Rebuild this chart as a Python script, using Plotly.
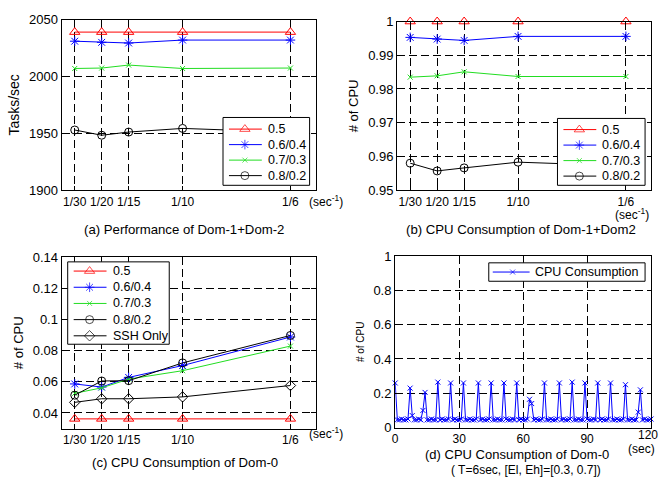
import plotly.graph_objects as go

W, H = 660, 485

# ---------------- data ----------------
x_rates = [1/30, 1/20, 1/15, 1/10, 1/6]
x_labels = ["1/30", "1/20", "1/15", "1/10", "1/6"]

series_names = ["0.5", "0.6/0.4", "0.7/0.3", "0.8/0.2"]

perf_05 = [2039, 2039, 2039, 2039, 2039]
perf_0604 = [2031, 2030, 2029.4, 2032, 2032]
perf_0703 = [2007, 2007.4, 2010, 2007, 2007.4]
perf_0802 = [1952.9, 1948.3, 1951.1, 1954.3, 1951]

cpu12_05 = [1.0, 1.0, 1.0, 1.0, 1.0]
cpu12_0604 = [0.9953, 0.9948, 0.9944, 0.9956, 0.9956]
cpu12_0703 = [0.9835, 0.9839, 0.9851, 0.9837, 0.9837]
cpu12_0802 = [0.9580, 0.9557, 0.9566, 0.9583, 0.9572]

dom0_05 = [0.0362, 0.0362, 0.0362, 0.0362, 0.0362]
dom0_0604 = [0.0586, 0.0566, 0.0628, 0.0704, 0.0887]
dom0_0703 = [0.0526, 0.0561, 0.0617, 0.0671, 0.0829]
dom0_0802 = [0.0514, 0.0605, 0.0607, 0.0721, 0.0897]
dom0_ssh = [0.0468, 0.0491, 0.0491, 0.0503, 0.0576]

time_sec = list(range(121))
cpu_trace = [
    0.26, 0.045, 0.045, 0.05, 0.045, 0.045, 0.05, 0.23, 0.07, 0.045,
    0.045, 0.05, 0.045, 0.10, 0.205, 0.045, 0.045, 0.05, 0.045, 0.045,
    0.265, 0.045, 0.05, 0.045, 0.045, 0.05, 0.26, 0.045, 0.05, 0.045,
    0.045, 0.05, 0.26, 0.045, 0.045, 0.05, 0.045, 0.045, 0.05, 0.26,
    0.045, 0.05, 0.045, 0.045, 0.05, 0.26, 0.045, 0.045, 0.05, 0.045,
    0.045, 0.26, 0.05, 0.045, 0.045, 0.05, 0.045, 0.26, 0.045, 0.05,
    0.045, 0.045, 0.05, 0.165, 0.14, 0.045, 0.05, 0.045, 0.045, 0.05,
    0.26, 0.045, 0.045, 0.05, 0.045, 0.045, 0.05, 0.26, 0.045, 0.05,
    0.045, 0.045, 0.05, 0.265, 0.045, 0.045, 0.05, 0.045, 0.045, 0.26,
    0.05, 0.045, 0.045, 0.05, 0.045, 0.26, 0.045, 0.05, 0.045, 0.045,
    0.05, 0.26, 0.045, 0.045, 0.05, 0.045, 0.045, 0.05, 0.25, 0.045,
    0.045, 0.05, 0.045, 0.045, 0.09, 0.22, 0.045, 0.05, 0.045, 0.045,
    0.05,
]
time_ticks = [0, 30, 60, 90, 120]

# ---------------- styles ----------------
FONT = "Liberation Sans, Arial, sans-serif"
RED, BLUE, GREEN, BLACK = "#ff0000", "#0000ff", "#22dd22", "#000000"
styles = {
    "0.5": dict(color=RED, symbol="triangle-up-open", size=9),
    "0.6/0.4": dict(color=BLUE, symbol="asterisk-open", size=8),
    "0.7/0.3": dict(color=GREEN, symbol="x-thin-open", size=5),
    "0.8/0.2": dict(color=BLACK, symbol="circle-open", size=8),
    "SSH Only": dict(color=BLACK, symbol="diamond-open", size=8),
    "CPU Consumption": dict(color=BLUE, symbol="x-thin-open", size=5),
}


def px_x(p):
    return p / W


def px_y(p):
    return 1 - p / H


fig = go.Figure()


def add_series(name, xs, ys, axis_idx):
    st = styles[name]
    sfx = "" if axis_idx == 1 else str(axis_idx)
    fig.add_trace(go.Scatter(
        x=xs, y=ys, name=name, mode="lines+markers", showlegend=False,
        cliponaxis=False,
        line=dict(color=st["color"], width=1),
        marker=dict(symbol=st["symbol"], size=st["size"], color=st["color"],
                    line=dict(color=st["color"], width=1)),
        xaxis="x" + sfx, yaxis="y" + sfx,
    ))


for nm, ys in zip(series_names, [perf_05, perf_0604, perf_0703, perf_0802]):
    add_series(nm, x_rates, ys, 1)
for nm, ys in zip(series_names, [cpu12_05, cpu12_0604, cpu12_0703, cpu12_0802]):
    add_series(nm, x_rates, ys, 2)
for nm, ys in zip(series_names + ["SSH Only"],
                  [dom0_05, dom0_0604, dom0_0703, dom0_0802, dom0_ssh]):
    add_series(nm, x_rates, ys, 3)
add_series("CPU Consumption", time_sec, cpu_trace, 4)

common_ax = dict(
    showline=True, linecolor="black", linewidth=1.3, mirror="ticks",
    ticks="inside", ticklen=4, tickcolor="black", tickwidth=1,
    showgrid=True, gridcolor="black", gridwidth=1, griddash="8px,4px",
    zeroline=False, tickangle=0,
    tickfont=dict(family=FONT, size=12, color="black"),
)

# panel pixel boxes: (left, right, top, bottom)
boxes = {
    1: (59, 314, 13, 189),
    2: (396, 651, 15, 189),
    3: (59, 314, 258, 435),
    4: (394, 651, 257, 434),
}

xr = [0.0253, 0.1822]

y_ticks = {
    1: ([1900, 1950, 2000, 2050], ["1900", "1950", "2000", "2050"], [1900, 2050]),
    2: ([0.95, 0.96, 0.97, 0.98, 0.99, 1.0], ["0.95", "0.96", "0.97", "0.98", "0.99", "1"], [0.95, 1.0]),
    3: ([0.04, 0.06, 0.08, 0.1, 0.12, 0.14], ["0.04", "0.06", "0.08", "0.1", "0.12", "0.14"], [0.03, 0.14]),
    4: ([0, 0.2, 0.4, 0.6, 0.8, 1.0], ["0", "0.2", "0.4", "0.6", "0.8", "1"], [0, 1]),
}
y_titles = {1: ("Tasks/sec", 14), 2: ("# of CPU", 13), 3: ("# of CPU", 13), 4: ("# of CPU", 10)}

layout_axes = {}
for i, (l, r, t, b) in boxes.items():
    sfx = "" if i == 1 else str(i)
    if i < 4:
        xa = dict(common_ax, domain=[px_x(l), px_x(r)], range=xr,
                  tickvals=x_rates, ticktext=x_labels, anchor="y" + sfx)
    else:
        # last label ("120") is drawn as an annotation so it is not dropped at the page edge
        xa = dict(common_ax, domain=[px_x(l), px_x(r)], range=[time_ticks[0], time_ticks[-1]],
                  tickvals=time_ticks, ticktext=[str(v) for v in time_ticks[:-1]] + [""],
                  anchor="y" + sfx)
    tv, tt, rg = y_ticks[i]
    ya = dict(common_ax, domain=[px_y(b), px_y(t)], range=rg, tickvals=tv, ticktext=tt,
              anchor="x" + sfx,
              title=dict(text=y_titles[i][0], font=dict(family=FONT, size=y_titles[i][1], color="black"),
                         standoff=6))
    ya["tickfont"] = dict(family=FONT, size=13, color="black")
    layout_axes["xaxis" + sfx] = xa
    layout_axes["yaxis" + sfx] = ya

# overlay axis in figure pixels, used only for the hand-drawn legend boxes
layout_axes["xaxis5"] = dict(domain=[0, 1], range=[0, W], visible=False, fixedrange=True, anchor="y5")
layout_axes["yaxis5"] = dict(domain=[0, 1], range=[H, 0], visible=False, fixedrange=True, anchor="x5")

annotations = []


def ann(text, x, y, size=12, xanchor="center"):
    annotations.append(dict(text=text, x=px_x(x), y=px_y(y), xref="paper", yref="paper",
                            showarrow=False, xanchor=xanchor, yanchor="middle",
                            font=dict(family=FONT, size=size, color="black")))


def draw_legend(names, left, right, top, bottom, first_y, step,
                l0=6, l1=39, mk=22, tx=43):
    fig.add_trace(go.Scatter(
        x=[left, right, right, left, left], y=[top, top, bottom, bottom, top],
        mode="lines", fill="toself", fillcolor="white",
        line=dict(color="black", width=1), showlegend=False, hoverinfo="skip",
        xaxis="x5", yaxis="y5"))
    for k, nm in enumerate(names):
        st = styles[nm]
        yk = first_y + k * step
        fig.add_trace(go.Scatter(
            x=[left + l0, left + mk, left + l1], y=[yk, yk, yk], mode="lines+markers",
            line=dict(color=st["color"], width=1),
            marker=dict(symbol=st["symbol"], size=[0, st["size"], 0], color=st["color"],
                        line=dict(color=st["color"], width=1)),
            showlegend=False, hoverinfo="skip", xaxis="x5", yaxis="y5"))
        ann(nm, left + tx, yk, size=12.5, xanchor="left")


draw_legend(series_names, 221, 308, 114, 184, 126, 16)
draw_legend(series_names, 557, 645, 115, 184, 126.5, 16)
draw_legend(series_names + ["SSH Only"], 65, 167, 263, 348, 272.5, 16.7)
draw_legend(["CPU Consumption"], 488, 645, 264, 283, 273.5, 16, l0=4, l1=41, mk=24, tx=44)

ann("(sec<sup>-1</sup>)", 305, 200, xanchor="left")
ann("(sec<sup>-1</sup>)", 632, 214)
ann("(sec<sup>-1</sup>)", 305, 440, xanchor="left")
ann("120", 660, 442, xanchor="right")
ann("(sec)", 641, 456)
CAP = 13.2
ann("(a) Performance of Dom-1+Dom-2", 182, 230, size=CAP)
ann("(b) CPU Consumption of Dom-1+Dom2", 520, 230, size=CAP)
ann("(c) CPU Consumption of Dom-0", 183, 470, size=CAP)
ann("(d) CPU Consumption of Dom-0", 516, 462, size=13)
ann("( T=6sec, [El, Eh]=[0.3, 0.7])", 525, 477.5, size=12)

fig.update_layout(
    width=W, height=H, margin=dict(l=0, r=0, t=0, b=0),
    paper_bgcolor="white", plot_bgcolor="rgba(0,0,0,0)",
    font=dict(family=FONT, size=12, color="black"),
    showlegend=False,
    annotations=annotations,
    **layout_axes,
)

fig.write_html("out.html")
